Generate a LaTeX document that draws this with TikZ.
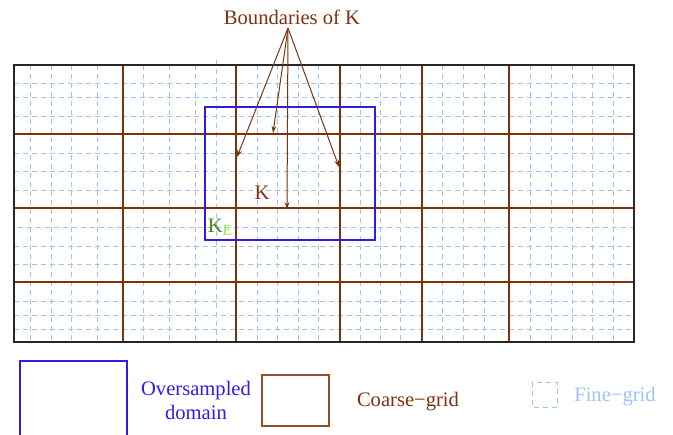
\documentclass[tikz,border=0pt]{standalone}
\usepackage{fontspec}
\setmainfont{Liberation Serif}
\usepackage{xcolor}
\usetikzlibrary{
	arrows.meta,
	positioning
}
\definecolor{coarse}{RGB}{125,50,15}
\definecolor{coarselgd}{RGB}{145,80,45}
\definecolor{fine}{RGB}{155,195,250}
\definecolor{oversamp}{RGB}{55,25,230}
\definecolor{kdark}{RGB}{70,135,30}
\definecolor{klight}{RGB}{140,235,60}
\tikzset{
	finegrid/.style={fine, dashed, dash pattern=on 2.5pt off 2pt, line width=0.5pt},
	coarsegrid/.style={coarse, line width=0.6pt},
	overbox/.style={oversamp, line width=0.6pt},
	lbl/.style={inner sep=0pt, font=\fontsize{10.3}{12}\selectfont}
}

\begin{document}
\begin{tikzpicture}[x=0.5pt, y=-0.5pt, >={Stealth[length=3.5pt, width=2.4pt]}]
		\useasboundingbox (0,0) rectangle (673,434);
		% fine grid
		\foreach \x in {30,51,71,97,143,169,195,257,277,298,318,360,380,400,442,463,484,530,551,572,592,613}
		\draw[finegrid] (\x,65) -- (\x,342);
		\draw[finegrid] (216,60) -- (216,342);
		\foreach \y in {83,97,116,153,171,190,246,264,301,315,329}
		\draw[finegrid] (14,\y) -- (634,\y);
		\draw[finegrid] (18,227) -- (638,227);
		% coarse grid
		\foreach \x in {123,236,340,422,509}
		\draw[coarsegrid] (\x,65) -- (\x,342);
		\foreach \y in {134,208,282}
		\draw[coarsegrid] (14,\y) -- (634,\y);
		\draw[line width=0.6pt, black!85] (14,65) rectangle (634,342);
		% oversampled domain
		\draw[overbox] (205,107) rectangle (375,240);
		% labels and arrows
		\node[lbl, coarse] (bnd) at (292,17) {Boundaries of K};
		\coordinate (src) at (288,28);
		\coordinate (b1) at (237,157);
		\coordinate (b2) at (273,133);
		\coordinate (b3) at (287,209);
		\coordinate (b4) at (339,167);
		\foreach \b in {b1,b2,b3,b4}
		\draw[coarse, line width=0.5pt, ->] (src) -- (\b);
		\node[lbl, coarse] (k) at (262,193) {K};
		\node[lbl, kdark] (ke) at (220,227) {K\raisebox{-1.6pt}{\fontsize{7.8}{9}\selectfont\color{klight}E}};
		% legend
		\draw[overbox] (20,361) rectangle (127,440);
		\node[lbl, oversamp, align=center] (lover) at (196,400) {Oversampled\\domain};
		\draw[coarselgd, line width=0.6pt] (262,375) rectangle (329,426);
		\node[lbl, coarse] (lcoarse) at (408,402) {Coarse−grid};
		\draw[finegrid] (532,382) rectangle (557,407);
		\node[lbl, fine] (lfine) at (615,397) {Fine−grid};
\end{tikzpicture}
\end{document}
